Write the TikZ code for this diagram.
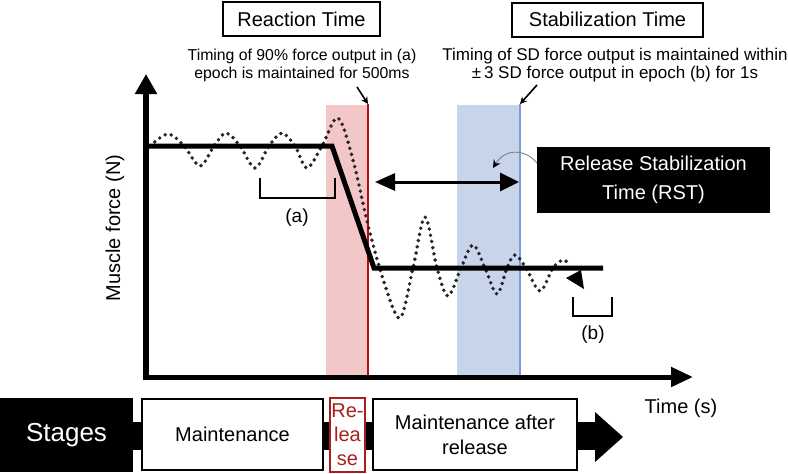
\documentclass[tikz,border=0pt]{standalone}
\usepackage{fontspec}
\setmainfont{Liberation Sans}
\usetikzlibrary{arrows.meta}
\definecolor{bandred}{RGB}{243,198,200}
\definecolor{linered}{RGB}{192,10,10}
\definecolor{bandblue}{RGB}{200,212,234}
\definecolor{lineblue}{RGB}{125,155,215}
\definecolor{relred}{RGB}{170,30,30}
\begin{document}
\begin{tikzpicture}[x=1pt,y=-1pt,
  titlebox/.style={draw=black,line width=2pt,minimum width=#1,minimum height=34pt,inner sep=0pt,font=\fontsize{20}{22}\selectfont},
  desc/.style={align=center,inner sep=0pt},
  lbl/.style={inner sep=0pt,font=\fontsize{19}{22}\selectfont},
  stagebox/.style={draw=black,fill=white,line width=2pt,inner sep=0pt,align=center,font=\fontsize{20}{25}\selectfont},
  pointer/.style={line width=1.6pt,-{Stealth[length=7pt,width=7pt]}},
  bracket/.style={line width=1.8pt},
  dots/.style={line width=3.9pt,dash pattern=on 0pt off 6.3pt,line cap=round,color=black!85}
]
\useasboundingbox (0,0) rectangle (788,474);

% bands
\fill[bandred] (326,105) rectangle (368,377);
\fill[bandblue] (457,105) rectangle (520,377);
\coordinate (redtop) at (368,104);
\coordinate (redbot) at (368,380);
\coordinate (bluetop) at (520,104);
\coordinate (bluebot) at (520,379);
\draw[linered,line width=2pt] (redtop) -- (redbot);
\draw[lineblue,line width=2.2pt] (bluetop) -- (bluebot);

% axes
\coordinate (origin) at (146,377);
\coordinate (ytip) at (146,74);
\coordinate (xtip) at (693,377);
\draw[line width=6pt,-{Triangle[length=20pt,width=21pt]}] (146,380) -- (ytip);
\draw[line width=5pt,-{Triangle[length=22pt,width=19pt]}] (143,377) -- (xtip);
\node[lbl,font=\fontsize{20}{22}\selectfont,rotate=90] (ylab) at (115,228) {Muscle force (N)};
\node[lbl,font=\fontsize{20}{22}\selectfont] (xlab) at (681,408) {Time (s)};

% dotted force trace
\draw[dots] plot[smooth,tension=0.55] coordinates {
 (150,146) (168,134) (184,146) (200,166) (214,146) (226,133) (240,146) (255,168) (269,146) (282,133) (295,146) (307,168) (322,146) (338,118) (353,160) (368,225) (384,282) (400,318) (413,268) (425,217) (437,268) (448,296) (461,268) (473,245) (485,268) (497,294) (507,268) (515,255) (526,268) (540,291) (553,268) (563,260) (570,265)};
\fill (566,278) -- (581,270) -- (584,289) -- cycle;

% solid force line
\draw[line width=5pt,line join=miter] (148,146) -- (332,146) -- (374,268) -- (603,268);

% brackets
\draw[bracket] (260,178) -- (260,198) -- (335,198) -- (335,178);
\node[lbl] (la) at (297,218) {(a)};
\draw[bracket] (573,297) -- (573,316) -- (612,316) -- (612,297);
\node[lbl] (lb) at (593,335) {(b)};

% RST double arrow
\coordinate (rstl) at (375,182);
\coordinate (rstr) at (519,182);
\draw[line width=3pt,{Triangle[length=20pt,width=17pt]}-{Triangle[length=19pt,width=18pt]}] (rstl) -- (rstr);

% RST box
\node[fill=black,text=white,minimum width=233pt,minimum height=66pt,inner sep=0pt,align=center,font=\fontsize{20}{29}\selectfont] (rst) at (653.5,180) {Release Stabilization\\Time (RST)};
\coordinate (curveend) at (493,168);
\draw[gray,line width=0.9pt,-{Stealth[length=8pt,width=8pt,color=black]}] ([yshift=17pt]rst.west) .. controls (527,150) and (506,147) .. (curveend);

% titles
\node[titlebox=157pt] (rt) at (301.5,19) {Reaction Time};
\node[titlebox=191pt] (st) at (607.5,19.5) {Stabilization Time};
\node[desc,font=\fontsize{15.8}{18}\selectfont] (d1) at (302,65) {Timing of 90\% force output in (a)\\epoch is maintained for 500ms};
\node[desc,font=\fontsize{17}{18}\selectfont] (d2) at (615,65) {Timing of SD force output is maintained within\\±\,3 SD force output in epoch (b) for 1s};
\draw[pointer] (357,87) -- (redtop);
\draw[pointer] (537,85) -- (bluetop);

% stages bar
\fill (130,422) rectangle (596,450);
\fill (595,412) -- (623,437) -- (595,462) -- cycle;
\node[fill=black,text=white,minimum width=133pt,minimum height=74pt,inner sep=0pt,font=\fontsize{26}{30}\selectfont] (stages) at (66.5,435) {Stages};
\node[stagebox,minimum width=181pt,minimum height=71pt] (maint) at (232.5,434.5) {Maintenance};
\node[stagebox,draw=relred,text=relred,minimum width=35pt,minimum height=74pt,font=\fontsize{20}{24}\selectfont] (rel) at (347.5,435) {Re-\\lea\\se};
\node[stagebox,minimum width=204pt,minimum height=71pt] (after) at (475,434.5) {Maintenance after\\release};
\end{tikzpicture}
\end{document}
